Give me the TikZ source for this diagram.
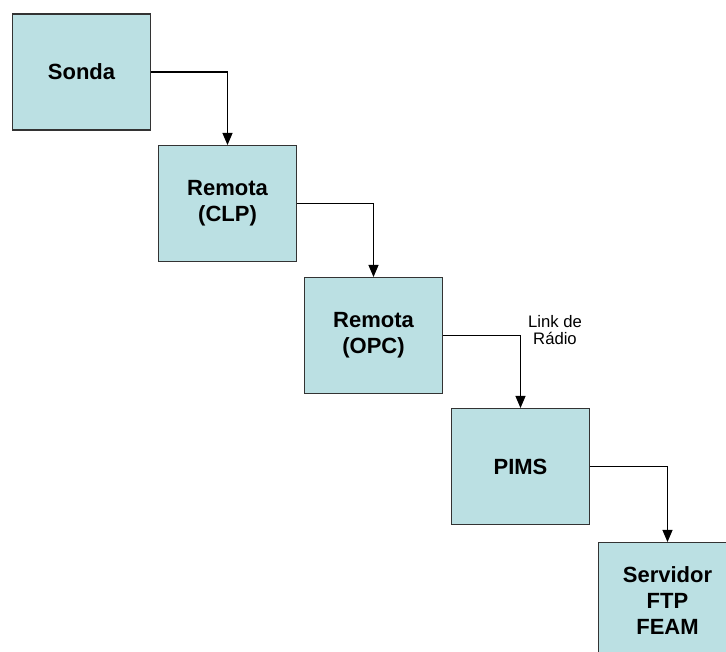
\documentclass[tikz,border=0pt]{standalone}
\usepackage{fontspec}
\setmainfont{Liberation Sans}
\usetikzlibrary{arrows.meta}
\definecolor{boxfill}{HTML}{BBE0E3}
\definecolor{boxline}{HTML}{333333}
\begin{document}
\begin{tikzpicture}[x=0.75pt,y=-0.75pt,
    bloco/.style={draw=boxline,line width=0.8pt,fill=boxfill,minimum width=104pt,minimum height=87pt,inner sep=0pt,align=center,font=\bfseries\fontsize{16.5}{19.5}\selectfont},
    seta/.style={draw=black,line width=0.8pt,-{Triangle[width=7.5pt,length=9pt]}}]
    \clip (0,0) rectangle (726,651);
    \useasboundingbox [fill=white] (0,0) rectangle (726,651);
    \node [bloco] (sonda) at (81.5,72) {Sonda};
    \node [bloco] (clp) at (227.5,203.5) {Remota\\(CLP)};
    \node [bloco] (opc) at (373.5,335.5) {Remota\\(OPC)};
    \node [bloco] (pims) at (520.5,466.5) {PIMS};
    \node [bloco] (ftp) at (667.5,600.5) {Servidor\\FTP\\FEAM};
    \draw [seta] (sonda.east) -| (clp.north);
    \draw [seta] (clp.east) -| (opc.north);
    \draw [seta] (opc.east) -| (pims.north);
    \draw [seta] (pims.east) -| (ftp.north);
    \node [align=center,font=\fontsize{12.5}{12.5}\selectfont] (radio) at (555,330) {Link de\\Rádio};
\end{tikzpicture}
\end{document}
